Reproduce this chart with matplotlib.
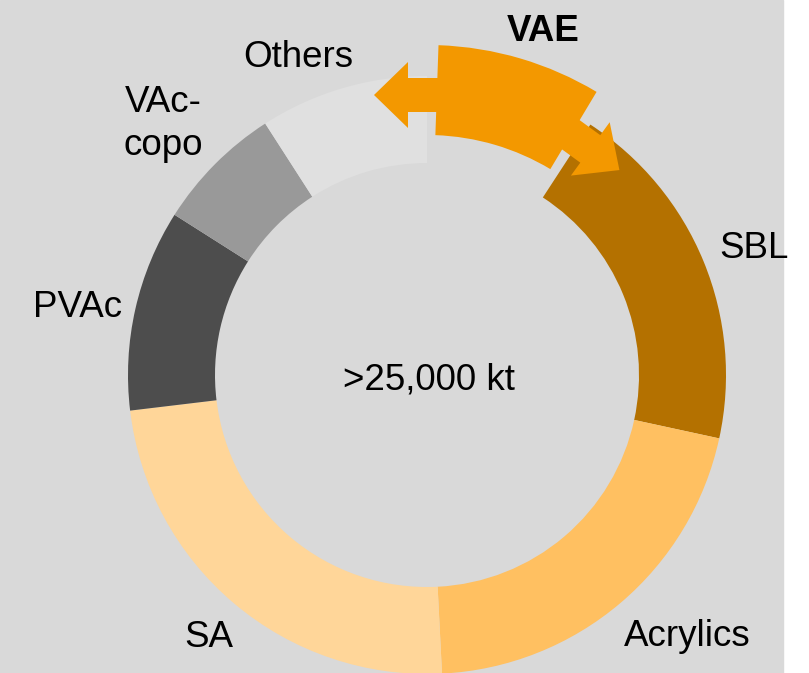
import numpy as np
import matplotlib.pyplot as plt
from matplotlib.patches import Rectangle, FancyArrow

# Market split (% of volume), clockwise from 12 o'clock
segments = ["VAE", "SBL", "Acrylics", "SA", "PVAc", "VAc-\ncopo", "Others"]
shares = [9.2, 19.2, 20.8, 23.9, 10.9, 6.9, 9.1]
colors = ["#F39800", "#B47100", "#FFC061", "#FFD699", "#4D4D4D", "#999999", "#E0E0E0"]
total_label = ">25,000 kt"

bg = "#D9D9D9"
orange = "#F39800"

fig = plt.figure(figsize=(8.09, 6.73), dpi=100, facecolor="white")
ax = fig.add_axes([0, 0, 1, 1])

cx, cy = 427, 375
R, W = 299, 87

wedges, _ = ax.pie(shares, colors=colors, radius=R, center=(cx, cy),
                   startangle=-90, counterclock=True, frame=True,
                   wedgeprops=dict(width=W, linewidth=0))
ax.set_xlim(0, 809)
ax.set_ylim(673, 0)
ax.set_aspect("equal")
ax.axis("off")

ax.add_patch(Rectangle((0, 0), 783, 673, color=bg, zorder=0))

# pull the VAE slice out of the ring
vae = wedges[0]
vae.set_radius(R + 31)
vae.set_width(W + 3)
vae.set_theta1(vae.theta1 + 2)
vae.set_theta2(vae.theta2 - 2.2)
vae.set_zorder(5)

# double arrow ends on the VAE slice
ra = 280
t1 = np.deg2rad(vae.theta1)
x0 = cx + ra * np.cos(t1) + 4
ax.add_patch(FancyArrow(x0, cy - ra, 374 - x0, 0, width=34, head_width=66,
                        head_length=34, length_includes_head=True,
                        color=orange, lw=0, zorder=6))

t2 = np.deg2rad(vae.theta2)
px, py = cx + ra * np.cos(t2), cy + ra * np.sin(t2)
d = np.deg2rad(36)
L = 66
px -= 6 * np.cos(d)
py -= 6 * np.sin(d)
ax.add_patch(FancyArrow(px, py, L * np.cos(d), L * np.sin(d), width=34,
                        head_width=66, head_length=36, length_includes_head=True,
                        color=orange, lw=0, zorder=6))

font = dict(family="Liberation Sans", fontsize=26.5, color="black", zorder=10)
label_pos = {
    "VAE": (543.5, 41),
    "SBL": (754, 258),
    "Acrylics": (687.5, 646),
    "SA": (208.5, 647),
    "PVAc": (78, 317),
    "VAc-\ncopo": (163, 155),
    "Others": (298.5, 67),
}
for name in segments:
    x, y = label_pos[name]
    weight = "bold" if name == "VAE" else "normal"
    ax.text(x, y, name, ha="center", va="baseline", fontweight=weight,
            linespacing=1.3, **font)

ax.text(429, 390, total_label, ha="center", va="baseline", **font)

fig.savefig("out.png", dpi=100, facecolor="white")
